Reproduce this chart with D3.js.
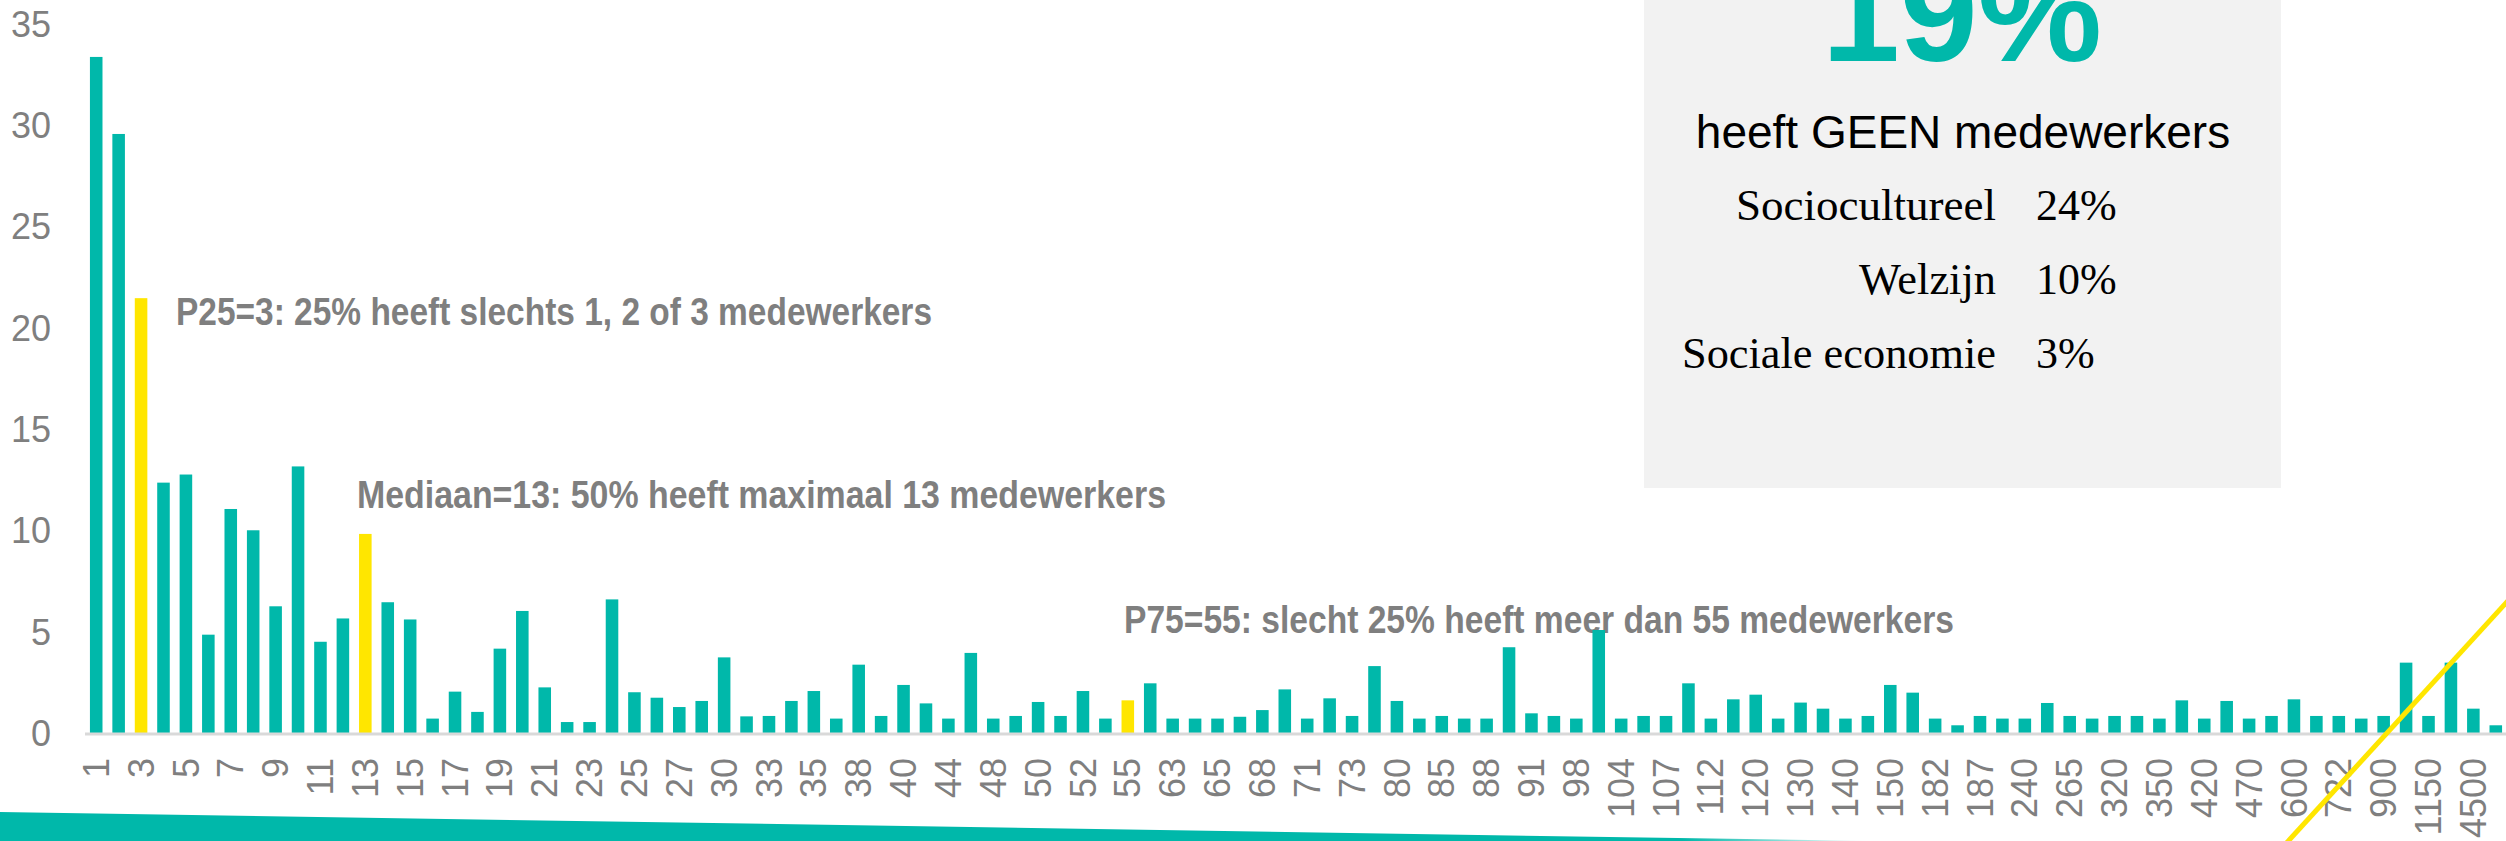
<!DOCTYPE html>
<html>
<head>
<meta charset="UTF-8">
<title>Aantal medewerkers</title>
<script src="https://d3js.org/d3.v7.min.js"></script>
<style>
  html, body { margin: 0; padding: 0; background: #fff; }
  svg { display: block; }
</style>
</head>
<body>
<script>
	// categories: number of employees (only every other one gets a label on the axis)
	var categories = ["1","2","3","4","5","6","7","8","9","10","11","12","13","14","15","16","17","18","19","20",
		"21","22","23","24","25","26","27","28","30","32","33","34","35","36","38","39","40","42","44","45",
		"48","49","50","51","52","54","55","60","63","64","65","66","68","70","71","72","73","75","80","82",
		"85","86","88","90","91","95","98","100","104","105","107","110","112","115","120","125","130","135","140","145",
		"150","160","182","185","187","200","240","250","265","300","320","330","350","400","420","450","470","500","600","650",
		"722","800","900","1000","1150","1200","4500","5000"];

	// share of organisations (%)
	var values = [33.4,29.6,21.5,12.4,12.8,4.9,11.1,10.05,6.3,13.2,4.55,5.7,9.87,6.5,5.65,0.76,2.09,1.09,4.21,6.07,
		2.3,0.59,0.59,6.64,2.06,1.79,1.33,1.63,3.78,0.87,0.89,1.63,2.12,0.76,3.42,0.89,2.42,1.51,0.76,4.0,
		0.76,0.89,1.58,0.89,2.12,0.76,1.66,2.5,0.76,0.76,0.76,0.85,1.18,2.2,0.76,1.76,0.89,3.35,1.63,0.76,
		0.89,0.76,0.76,4.28,1.02,0.89,0.76,5.13,0.76,0.89,0.89,2.5,0.76,1.71,1.94,0.76,1.55,1.25,0.76,0.89,
		2.42,2.04,0.76,0.43,0.89,0.76,0.76,1.53,0.89,0.76,0.89,0.89,0.76,1.66,0.76,1.63,0.76,0.89,1.71,0.89,
		0.89,0.76,0.89,3.52,0.89,3.52,1.25,0.43];

	// percentiles marked in yellow
	var highlight = ["3", "13", "55"];

	var yTicks = [0, 5, 10, 15, 20, 25, 30, 35];

	var annotations = [
		{cat: "3",  text: "P25=3: 25% heeft slechts 1, 2 of 3 medewerkers"},
		{cat: "13", text: "Mediaan=13: 50% heeft maximaal 13 medewerkers"},
		{cat: "55", text: "P75=55: slecht 25% heeft meer dan 55 medewerkers"}
	];

	var bigNumber = "19%";
	var bigLabel = "heeft GEEN medewerkers";
	var sectors = ["Sociocultureel", "Welzijn", "Sociale economie"];
	var sectorValues = ["24%", "10%", "3%"];

	var W = 2506, H = 841;
	var teal = "#00b8aa", yellow = "#ffe600", grey = "#7f7f7f";
	var sansFont = "'Liberation Sans', Arial, sans-serif";
	var serifFont = "'Liberation Serif', 'DejaVu Serif', serif";

	var svg = d3.select("body").append("svg")
		.attr("width", W)
		.attr("height", H);

	// scales
	var x = d3.scaleBand()
		.domain(categories)
		.range([85, 2507])
		.paddingInner(0.44)
		.paddingOuter(0.22);

	var y = d3.scaleLinear()
		.domain([0, 35])
		.range([734, 24.5]);

	// grey info box on the right
	var box = svg.append("g");
	box.append("rect")
		.attr("x", 1644).attr("y", 0)
		.attr("width", 637).attr("height", 488)
		.attr("fill", "#f2f2f2");

	box.append("text")
		.attr("x", 1962).attr("y", 61)
		.attr("text-anchor", "middle")
		.attr("font-family", sansFont)
		.attr("font-weight", "bold")
		.attr("font-size", 140)
		.attr("fill", teal)
		.text(bigNumber);

	box.append("text")
		.attr("x", 1963).attr("y", 148)
		.attr("text-anchor", "middle")
		.attr("font-family", sansFont)
		.attr("font-size", 46)
		.attr("fill", "#000")
		.text(bigLabel);

	sectors.forEach(function(s, i) {
		box.append("text")
			.attr("x", 1996).attr("y", 220 + i * 74)
			.attr("text-anchor", "end")
			.attr("font-family", serifFont)
			.attr("font-size", 44)
			.attr("fill", "#000")
			.attr("textLength", [260, 137, 314][i])
			.attr("lengthAdjust", "spacingAndGlyphs")
			.text(s);
		box.append("text")
			.attr("x", 2036).attr("y", 220 + i * 74)
			.attr("font-family", serifFont)
			.attr("font-size", 44)
			.attr("fill", "#000")
			.text(sectorValues[i]);
	});

	// annotation texts, placed to the right of the highlighted bar (narrowed bold sans)
	var annoPos = {"3": [176, 325, 756], "13": [357, 508, 809], "55": [1124, 633, 830]};
	annotations.forEach(function(a) {
		var p = annoPos[a.cat];
		svg.append("text")
			.attr("x", p[0]).attr("y", p[1])
			.attr("font-family", sansFont)
			.attr("font-weight", "bold")
			.attr("font-size", 39)
			.attr("fill", grey)
			.attr("textLength", p[2])
			.attr("lengthAdjust", "spacingAndGlyphs")
			.text(a.text);
	});

	// bars
	svg.append("g").selectAll("rect")
		.data(categories)
		.enter().append("rect")
			.attr("x", function(d) { return x(d); })
			.attr("width", x.bandwidth())
			.attr("y", function(d, i) { return y(values[i]); })
			.attr("height", function(d, i) { return y(0) - y(values[i]); })
			.attr("fill", function(d) { return highlight.indexOf(d) >= 0 ? yellow : teal; });

	// x axis
	var xAxis = svg.append("g")
		.attr("transform", "translate(0," + y(0) + ")")
		.call(d3.axisBottom(x)
			.tickValues(categories.filter(function(d, i) { return i % 2 === 0; }))
			.tickSize(0));
	xAxis.select(".domain").remove();
	xAxis.append("line")
		.attr("x1", 85).attr("x2", W)
		.attr("y1", 0).attr("y2", 0)
		.attr("stroke", "#d9d9d9")
		.attr("stroke-width", 3);
	xAxis.selectAll("text")
		.attr("transform", "rotate(-90)")
		.attr("x", -24)
		.attr("y", 0)
		.attr("dy", "0.35em")
		.attr("text-anchor", "end")
		.attr("font-family", sansFont)
		.attr("font-size", 36)
		.attr("fill", grey);

	// y axis
	var yAxis = svg.append("g")
		.attr("transform", "translate(51,0)")
		.call(d3.axisLeft(y).tickValues(yTicks).tickSize(0).tickPadding(0));
	yAxis.select(".domain").remove();
	yAxis.selectAll("text")
		.attr("font-family", sansFont)
		.attr("font-size", 36)
		.attr("fill", grey);

	// decoration: teal band at the bottom, fading out to the right
	var defs = svg.append("defs");
	var grad = defs.append("linearGradient")
		.attr("id", "bandFade")
		.attr("gradientUnits", "userSpaceOnUse")
		.attr("x1", 0).attr("x2", 1870).attr("y1", 0).attr("y2", 0);
	grad.append("stop").attr("offset", 0).attr("stop-color", teal);
	grad.append("stop").attr("offset", 0.9).attr("stop-color", teal);
	grad.append("stop").attr("offset", 1).attr("stop-color", teal).attr("stop-opacity", 0);

	svg.append("polygon")
		.attr("points", "0,812 1870,841 0,841")
		.attr("fill", "url(#bandFade)");

	// decoration: yellow diagonal line bottom right
	svg.append("line")
		.attr("x1", 2281).attr("y1", 849)
		.attr("x2", 2515).attr("y2", 593)
		.attr("stroke", yellow)
		.attr("stroke-width", 5);
</script>
</body>
</html>
